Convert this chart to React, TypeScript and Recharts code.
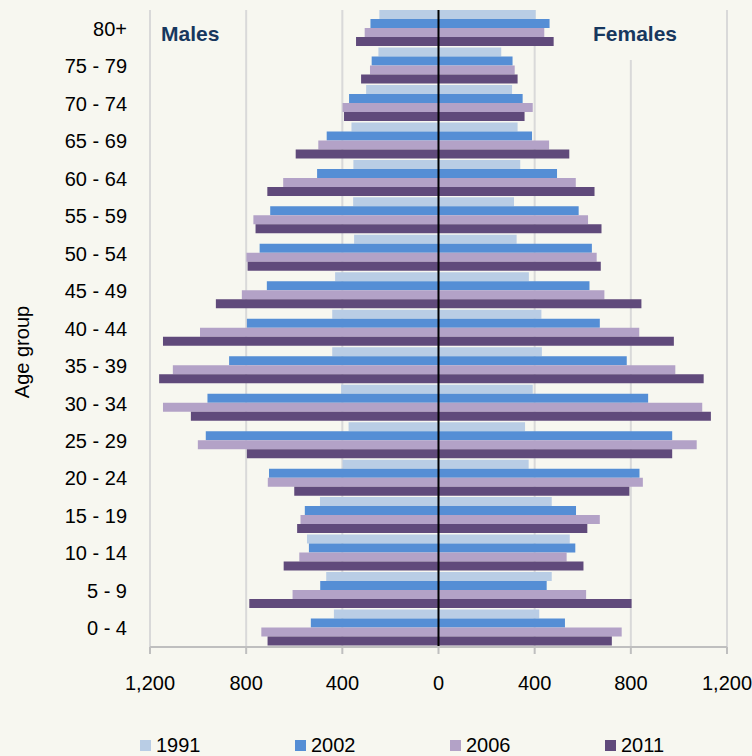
import React from 'react';
import { BarChart, Bar, XAxis, YAxis, CartesianGrid, ReferenceLine } from 'recharts';

// age groups, top to bottom
const ageGroups = [
  '80+', '75 - 79', '70 - 74', '65 - 69', '60 - 64', '55 - 59', '50 - 54', '45 - 49', '40 - 44',
  '35 - 39', '30 - 34', '25 - 29', '20 - 24', '15 - 19', '10 - 14', '5 - 9', '0 - 4',
];

const years = ['1991', '2002', '2006', '2011'];
const colors = ['#b9cde5', '#558ed5', '#b3a2c7', '#604a7b'];

const males1991 = [246, 250, 301, 362, 354, 355, 351, 430, 442, 442, 405, 374, 399, 493, 547, 467, 435];
const males2002 = [283, 278, 372, 465, 505, 700, 744, 714, 797, 871, 961, 968, 705, 556, 539, 492, 531];
const males2006 = [307, 285, 399, 500, 646, 770, 799, 818, 992, 1105, 1146, 1001, 710, 574, 579, 607, 737];
const males2011 = [343, 322, 393, 594, 712, 761, 794, 926, 1146, 1162, 1030, 797, 600, 588, 644, 787, 711];

const females1991 = [404, 261, 306, 329, 340, 314, 325, 376, 428, 430, 392, 360, 375, 471, 546, 471, 419];
const females2002 = [462, 308, 350, 389, 493, 583, 638, 628, 671, 783, 872, 972, 836, 572, 569, 450, 526];
const females2006 = [440, 317, 392, 460, 571, 622, 658, 690, 835, 985, 1097, 1074, 850, 671, 533, 614, 762];
const females2011 = [479, 329, 358, 544, 649, 678, 675, 844, 979, 1103, 1133, 972, 794, 619, 603, 803, 721];

const xTicks = [-1200, -800, -400, 0, 400, 800, 1200];

const males = [males1991, males2002, males2006, males2011];
const females = [females1991, females2002, females2006, females2011];

const data = ageGroups.map((age, i) => {
  const row: Record<string, string | number> = { age };
  years.forEach((y, k) => {
    row['m' + y] = -males[k][i];
    row['f' + y] = females[k][i];
  });
  return row;
});

const FONT = '"Liberation Sans", Arial, sans-serif';
const BG = '#f7f7f0';

export default function App() {
  return (
    <div style={{ position: 'relative', width: 752, height: 756, background: BG, fontFamily: FONT, overflow: 'hidden' }}>
      <style>{'body{margin:0}'}</style>
      <BarChart
        width={752}
        height={700}
        data={data}
        layout="vertical"
        stackOffset="sign"
        barCategoryGap={0}
        barGap={0}
        margin={{ top: 10, right: 25, left: 0, bottom: 8 }}
      >
        <CartesianGrid horizontal={false} stroke="#d9d9d9" strokeWidth={2} />
        <XAxis
          type="number"
          domain={[-1200, 1200]}
          ticks={xTicks}
          tickFormatter={(v: number) => Math.abs(v).toLocaleString('en-US')}
          height={45}
          stroke="#bfbfbf"
          strokeWidth={2}
          tickSize={7}
          tickMargin={22}
          tick={{ fill: '#000', fontSize: 20, fontFamily: FONT }}
        />
        <YAxis
          type="category"
          dataKey="age"
          width={150}
          axisLine={false}
          tickLine={false}
          tickSize={0}
          tickMargin={23}
          interval={0}
          tick={{ fill: '#000', fontSize: 20, fontFamily: FONT }}
        />
        {years.map((y, k) => (
          <Bar key={'m' + y} dataKey={'m' + y} stackId={y} fill={colors[k]} isAnimationActive={false} />
        ))}
        {years.map((y, k) => (
          <Bar key={'f' + y} dataKey={'f' + y} stackId={y} fill={colors[k]} isAnimationActive={false} />
        ))}
        <ReferenceLine x={0} stroke="#000" strokeWidth={2} />
      </BarChart>

      <div style={{ position: 'absolute', left: 161, top: 23, fontSize: 21, fontWeight: 'bold', color: '#17375e', lineHeight: 1 }}>
        Males
      </div>
      <div style={{ position: 'absolute', left: 585, top: 10, width: 100, height: 50, background: BG }} />
      <div style={{ position: 'absolute', left: 593, top: 23, fontSize: 21, fontWeight: 'bold', color: '#17375e', lineHeight: 1 }}>
        Females
      </div>

      <div
        style={{
          position: 'absolute',
          left: 22,
          top: 352,
          fontSize: 20,
          color: '#000',
          whiteSpace: 'nowrap',
          transform: 'translate(-50%, -50%) rotate(-90deg)',
        }}
      >
        Age group
      </div>

      <div style={{ position: 'absolute', left: 140, top: 734, display: 'flex' }}>
        {years.map((y, k) => (
          <div key={y} style={{ width: 155, display: 'flex', alignItems: 'center', fontSize: 20, color: '#000', lineHeight: '22px' }}>
            <span style={{ display: 'inline-block', width: 11, height: 11, background: colors[k], marginRight: 5 }} />
            {y}
          </div>
        ))}
      </div>
    </div>
  );
}
